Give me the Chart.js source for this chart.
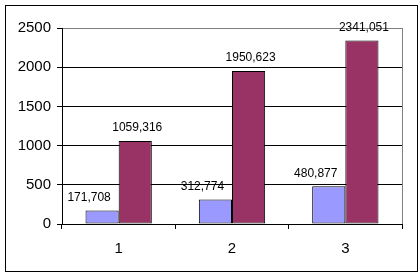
<!DOCTYPE html>
<html>
<head>
<meta charset="utf-8">
<script src="https://cdn.jsdelivr.net/npm/chart.js@4/dist/chart.umd.min.js"></script>
<style>
  html, body { margin: 0; padding: 0; background: #fff; }
  canvas { display: block; }
</style>
</head>
<body>
<canvas id="chart" width="419" height="277"></canvas>
<script>
'use strict';

// ─── DATA ────────────────────────────────────────────────────────────────────

const categories = ['1', '2', '3'];
const seriesA    = [171.708, 312.774, 480.877];
const seriesB    = [1059.316, 1950.623, 2341.051];
const labelsA    = ['171,708', '312,774', '480,877'];
const labelsB    = ['1059,316', '1950,623', '2341,051'];

const FONT = 'Arial, "Liberation Sans", sans-serif';

// ─── PLUGINS ─────────────────────────────────────────────────────────────────

// outer frame + grey right edge of the plot area
const framePlugin = {
  id: 'frame',
  afterDraw(chart) {
    const { ctx, chartArea: a } = chart;
    ctx.save();
    ctx.strokeStyle = '#808080';
    ctx.lineWidth = 1;
    ctx.beginPath();
    ctx.moveTo(Math.round(a.right) + 0.5, a.top);
    ctx.lineTo(Math.round(a.right) + 0.5, a.bottom);
    ctx.stroke();
    ctx.strokeStyle = '#000';
    ctx.strokeRect(5.5, 5.5, 412, 266);
    ctx.restore();
  }
};

// value labels above bars
const valueLabels = {
  id: 'valueLabels',
  afterDatasetsDraw(chart) {
    const { ctx } = chart;
    const texts   = [labelsA, labelsB];
    const shift   = [-13, 2];
    ctx.save();
    ctx.font = '12px ' + FONT;
    ctx.fillStyle = '#000';
    ctx.textAlign = 'center';
    ctx.textBaseline = 'bottom';
    chart.data.datasets.forEach((ds, i) => {
      chart.getDatasetMeta(i).data.forEach((el, j) => {
        ctx.fillText(texts[i][j], el.x + shift[i], el.y - 7);
      });
    });
    ctx.restore();
  }
};

// ─── CHART ───────────────────────────────────────────────────────────────────

new Chart(document.getElementById('chart'), {
  type: 'bar',
  data: {
    labels: categories,
    datasets: [
      {
        data: seriesA,
        backgroundColor: '#9999ff',
        borderColor: '#000',
        borderWidth: 1,
        borderSkipped: false,
        categoryPercentage: 0.585,
        barPercentage: 1,
      },
      {
        data: seriesB,
        backgroundColor: '#993366',
        borderColor: '#000',
        borderWidth: 1,
        borderSkipped: false,
        categoryPercentage: 0.585,
        barPercentage: 1,
      },
    ],
  },
  options: {
    responsive: false,
    animation: false,
    layout: { padding: { top: 28, right: 17, left: 0, bottom: 0 } },
    plugins: {
      legend:  { display: false },
      tooltip: { enabled: false },
    },
    scales: {
      x: {
        grid: {
          offset: true,
          drawOnChartArea: false,
          tickLength: 5,
          color: '#000',
        },
        border: { display: true, color: '#000', width: 1 },
        ticks: {
          color: '#000',
          font: { family: FONT, size: 15 },
          padding: 11,
        },
        afterFit: s => { s.height = 53; },
      },
      y: {
        min: 0,
        max: 2500,
        ticks: {
          stepSize: 500,
          color: '#000',
          font: { family: FONT, size: 15 },
          padding: 6,
          callback: v => String(v),
        },
        grid: {
          color: c => (c.tick && c.tick.value === 2500 ? '#808080' : '#000'),
          tickColor: '#000',
          tickLength: 5,
        },
        border: { display: true, color: '#000', width: 1 },
        afterFit: s => { s.width = 62; },
      },
    },
  },
  plugins: [framePlugin, valueLabels],
});
</script>
</body>
</html>
